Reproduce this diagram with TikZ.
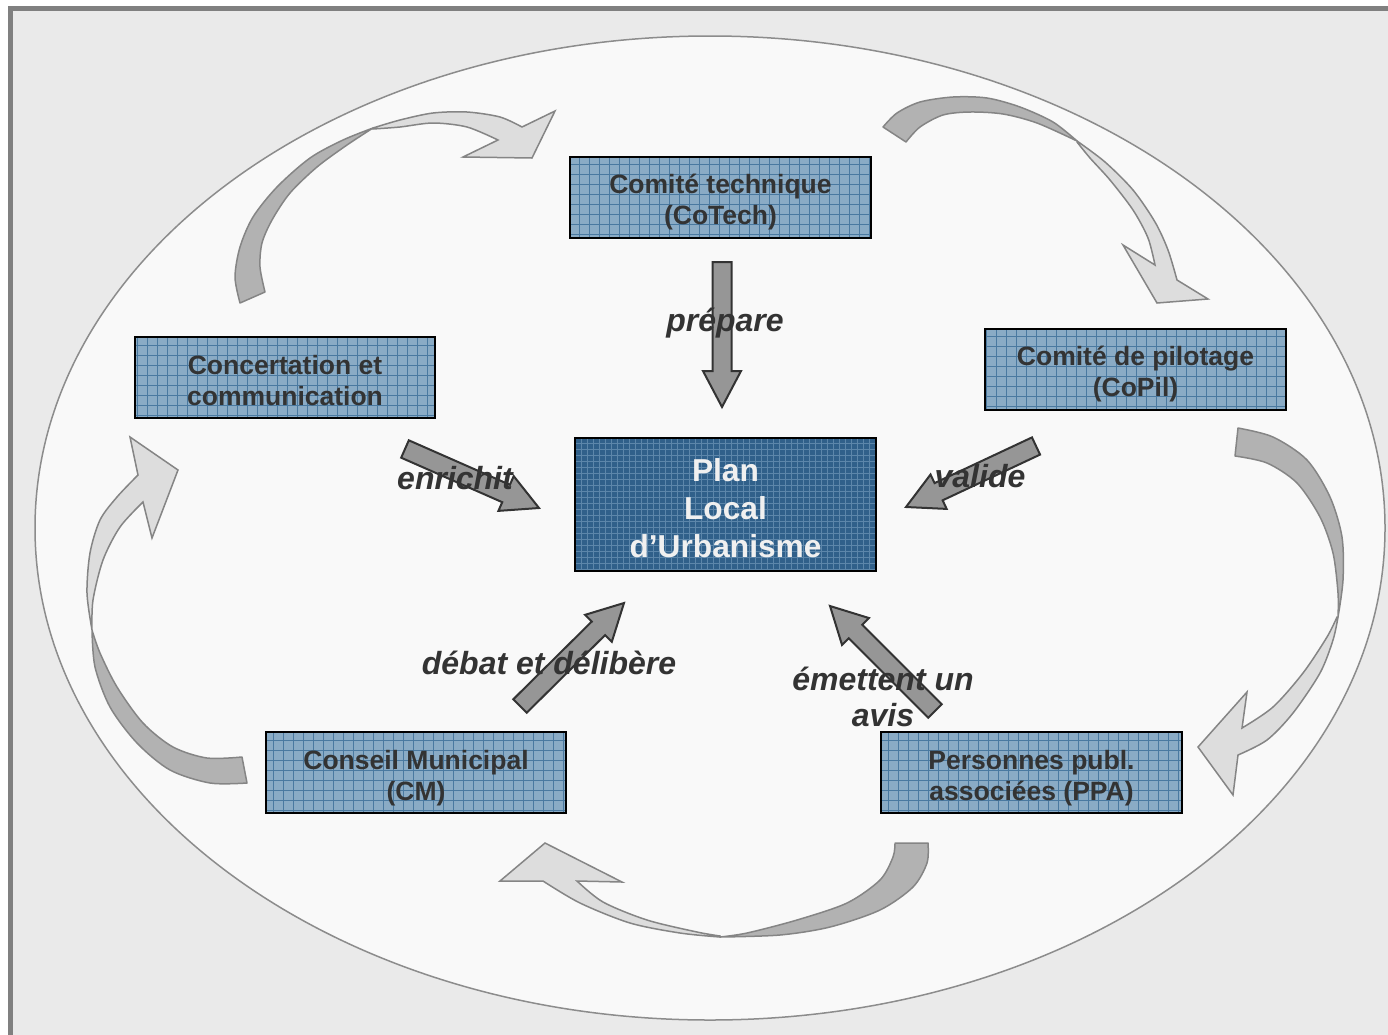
\documentclass[tikz,border=0pt]{standalone}
\usepackage{fontspec}
\setmainfont{Liberation Sans}
\usetikzlibrary{calc}
\definecolor{framegray}{HTML}{808080}
\definecolor{framefill}{HTML}{EAEAEA}
\definecolor{ellfill}{HTML}{F9F9F9}
\definecolor{ellline}{HTML}{8C8C8C}
\definecolor{boxfill}{HTML}{8AABC5}
\definecolor{boxgrid}{HTML}{4A79A0}
\definecolor{plufill}{HTML}{30608A}
\definecolor{plugrid}{HTML}{1B4468}
\definecolor{plugridlight}{HTML}{5C86AA}
\definecolor{txtgray}{HTML}{333333}
\definecolor{arrfill}{HTML}{969696}
\definecolor{arrline}{HTML}{333333}
\definecolor{cdark}{HTML}{B2B2B2}
\definecolor{clight}{HTML}{DDDDDD}
\definecolor{cline}{HTML}{858585}
\tikzset{
  lightbox/.style={draw=black, line width=2, fill=boxfill, minimum width=300, minimum height=81,
    align=center, text=txtgray, font=\fontsize{26.5}{31}\selectfont\bfseries, inner sep=0,
    text height=58pt, text depth=3pt,
    path picture={\draw[boxgrid, line width=1, step=10pt] (path picture bounding box.south west) grid (path picture bounding box.north east);}},
  plubox/.style={draw=black, line width=2, fill=plufill, minimum width=300, minimum height=133,
    align=center, text=white!94!black, font=\fontsize{31.7}{38}\selectfont\bfseries, inner sep=0,
    text height=108pt, text depth=2.4pt,
    path picture={\draw[plugrid, line width=1, step=6pt] (path picture bounding box.south west) grid (path picture bounding box.north east);
                  \draw[plugridlight, line width=0.6, step=6pt, shift={(3,3)}] (path picture bounding box.south west) grid (path picture bounding box.north east);}},
  blockarrow/.style={fill=arrfill, draw=arrline, line width=2, line join=miter},
  cdarkst/.style={fill=cdark, draw=cline, line width=1.5, line join=round},
  clightst/.style={fill=clight, draw=cline, line width=1.5, line join=miter},
  lbl/.style={font=\fontsize{32}{36}\selectfont\bfseries\itshape, text=txtgray, align=center, inner sep=0}
}
\newcommand{\blockarr}[2]{%
  \coordinate (hb) at ($(#2)!36pt!(#1)$);
  \filldraw[blockarrow] ($(#1)!9.5pt!90:(#2)$) -- ($(hb)!9.5pt!90:(#2)$) -- ($(hb)!19pt!90:(#2)$)
    -- (#2) -- ($(hb)!19pt!-90:(#2)$) -- ($(hb)!9.5pt!-90:(#2)$) -- ($(#1)!9.5pt!-90:(#2)$) -- cycle;
}
\begin{document}
\begin{tikzpicture}[x=1pt,y=-1pt]
\useasboundingbox (0,0) rectangle (1388,1034);
\fill[white] (0,0) rectangle (1388,1034);
\draw[framegray, line width=5, fill=framefill] (10.5,8.5) rectangle (1420,1060);
\draw[ellline, line width=1.5, fill=ellfill] (710,528) ellipse [x radius=675pt, y radius=492pt];

% curved arrow A (Concertation -> CoTech)
\filldraw[cdarkst] plot[smooth] coordinates {(240,303)(235,277)(240,247)(253,217)(277,187)(310,158)(343,140)(373,128)}
  -- plot[smooth] coordinates {(373,128)(347,145)(317,167)(290,193)(272,220)(262,243)(260,267)(265,292)} -- cycle;
\filldraw[clightst] plot[smooth] coordinates {(373,128)(400,120)(433,113)(467,112)(500,117)(522,127)}
  -- (555,111) -- (532,158) -- (463,157)
  -- plot[smooth] coordinates {(498,140)(467,127)(433,123)(400,127)(373,129)} -- cycle;

% curved arrow B (CoTech -> CoPil)
\filldraw[cdarkst] plot[smooth] coordinates {(883,127)(897,113)(920,102)(953,97)(987,98)(1020,107)(1053,122)(1077,141)}
  -- plot[smooth] coordinates {(1077,141)(1037,123)(1003,114)(970,112)(943,115)(920,127)(906,142)} -- cycle;
\filldraw[clightst] plot[smooth] coordinates {(1077,141)(1105,162)(1133,190)(1155,222)(1168,250)(1177,280)}
  -- (1208,299) -- (1157,303) -- (1123,245)
  -- plot[smooth] coordinates {(1155,265)(1148,238)(1133,210)(1110,180)(1090,158)(1077,142)} -- cycle;

% curved arrow C (CoPil -> PPA)
\filldraw[cdarkst] plot[smooth] coordinates {(1238,428)(1273,437)(1307,460)(1330,497)(1342,537)(1343,580)(1338,617)}
  -- plot[smooth] coordinates {(1338,617)(1338,593)(1333,553)(1320,517)(1297,483)(1267,463)(1235,456)} -- cycle;
\filldraw[clightst] plot[smooth] coordinates {(1338,617)(1333,640)(1320,673)(1293,713)(1267,740)(1238,755)}
  -- (1233,795) -- (1198,747) -- (1247,692)
  -- plot[smooth] coordinates {(1242,728)(1273,707)(1303,673)(1327,637)(1337,617)} -- cycle;

% curved arrow D (PPA -> CM)
\filldraw[cdarkst] plot[smooth] coordinates {(928,843)(927,863)(913,887)(880,910)(830,927)(780,935)(720,937)}
  -- plot[smooth] coordinates {(720,937)(747,933)(797,920)(847,903)(880,880)(893,857)(895,843)} -- cycle;
\filldraw[clightst] plot[smooth] coordinates {(720,937)(680,933)(630,923)(580,903)(543,881)}
  -- (500,881) -- (545,843) -- (622,882)
  -- plot[smooth] coordinates {(577,881)(603,902)(647,920)(697,932)(720,936)} -- cycle;

% curved arrow E (CM -> Concertation)
\filldraw[cdarkst] plot[smooth] coordinates {(247,783)(210,783)(170,770)(137,743)(110,707)(95,667)(92,630)}
  -- plot[smooth] coordinates {(92,630)(100,653)(117,687)(143,723)(173,747)(207,758)(242,757)} -- cycle;
\filldraw[clightst] plot[smooth] coordinates {(92,630)(87,593)(90,553)(100,520)(117,497)(138,475)}
  -- (130,437) -- (178,470) -- (152,538)
  -- plot[smooth] coordinates {(143,502)(120,527)(103,560)(93,600)(92,630)} -- cycle;

% boxes
\node[lightbox, minimum width=301] (cotech) at (720.5,197) {Comité technique\\(CoTech)};
\node[lightbox] (concert) at (285,377.5) {Concertation et\\communication};
\node[lightbox, minimum width=301] (copil) at (1135.5,369) {Comité de pilotage\\(CoPil)};
\node[plubox, minimum width=301] (plu) at (725.5,504.5) {Plan\\Local\\d’Urbanisme};
\node[lightbox] (cm) at (416,772.5) {Conseil Municipal\\(CM)};
\node[lightbox, minimum width=301] (ppa) at (1031.5,772.5) {Personnes publ.\\associées (PPA)};

% straight arrows
\coordinate (prepT) at (722,262);  \coordinate (prepH) at (722,407);
\coordinate (enrT) at (405,449);   \coordinate (enrH) at (539,508);
\coordinate (valT) at (1036,446);  \coordinate (valH) at (906,507);
\coordinate (debT) at (520,706);   \coordinate (debH) at (624,603);
\coordinate (emeT) at (935,711);   \coordinate (emeH) at (830,606);
\blockarr{prepT}{prepH}
\blockarr{enrT}{enrH}
\blockarr{valT}{valH}
\blockarr{debT}{debH}
\blockarr{emeT}{emeH}

% labels
\node[lbl] (lprep) at (725,323) {prépare};
\node[lbl] (lenr) at (455,478) {enrichit};
\node[lbl] (lval) at (980,476) {valide};
\node[lbl] (ldeb) at (549,663) {débat et délibère};
\node[lbl] (leme) at (883,697) {émettent un\\avis};
\end{tikzpicture}
\end{document}
